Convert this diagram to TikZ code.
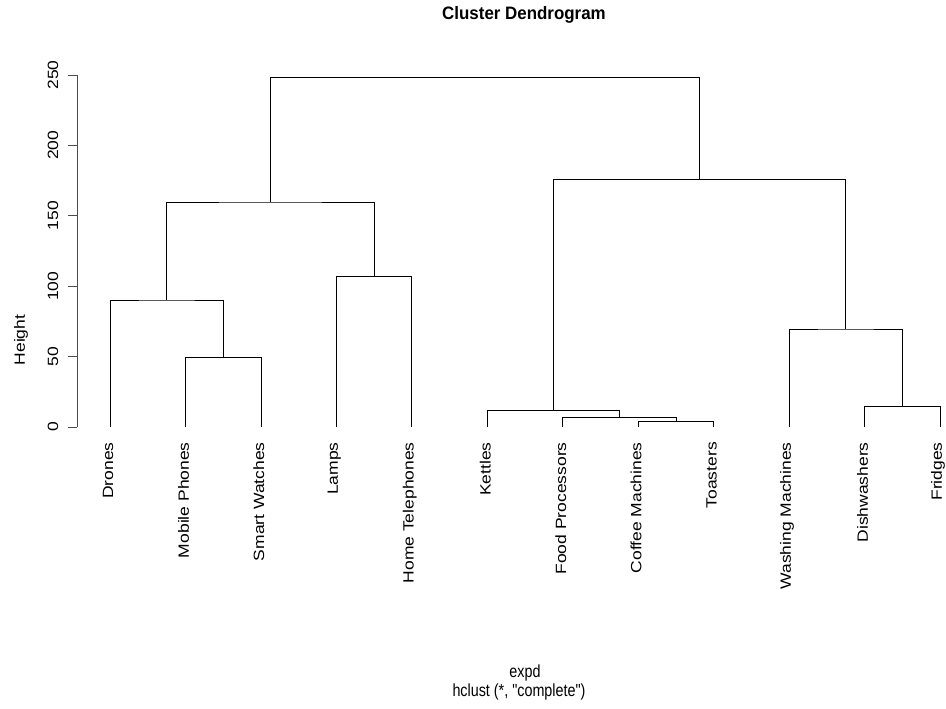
\documentclass[tikz,border=0pt]{standalone}
\usepackage{fontspec}
\setmainfont{Liberation Sans}
\newcommand{\narrowtext}[1]{\scalebox{1}[0.85]{#1}}
\begin{document}
\begin{tikzpicture}[x=1pt,y=1pt,
  link/.style={draw=black,line width=0.8pt},
  axisline/.style={draw=black!70,line width=0.8pt},
  leaflabel/.style={rotate=90,anchor=east,inner sep=0pt,font=\fontsize{17.5}{20}\selectfont},
  ticklabel/.style={rotate=90,inner sep=0pt,font=\fontsize{17.5}{20}\selectfont},
  plaintext/.style={inner sep=0pt,font=\fontsize{17.5}{20}\selectfont,xscale=0.82}]
\useasboundingbox (0,0) rectangle (946,709);
\fill[white] (0,0) rectangle (946,709);

% titles
\node[inner sep=0pt,font=\bfseries\fontsize{18}{21}\selectfont,xscale=0.94] (title) at (524,694) {Cluster Dendrogram};
\node[plaintext] (xlab) at (525,36) {expd};
\node[plaintext] (sub) at (519,17) {hclust (*, \textquotedbl complete\textquotedbl)};
\node[ticklabel] (ylab) at (21,369) {\narrowtext{Height}};

% data area: x in pt, y in height units
\begin{scope}[shift={(0,282)},y=1.408pt]
  % axis
  \coordinate (ax0) at (77,0);
  \coordinate (ax1) at (77,250);
  \draw[axisline] (ax0) -- (ax1);
  \foreach \v in {0,50,...,250} {
    \coordinate (t\v) at (77,\v);
    \draw[axisline] (t\v) -- ++(-9,0);
    \node[ticklabel] (tl\v) at (53,\v) {\narrowtext{\v}};
  }

  % leaves
  \foreach \i/\name/\txt in {0/dr/Drones,1/mp/Mobile Phones,2/sw/Smart Watches,3/la/Lamps,4/ht/Home Telephones,5/ke/Kettles,6/fp/Food Processors,7/cm/Coffee Machines,8/to/Toasters,9/wm/Washing Machines,10/dw/Dishwashers,11/fr/Fridges} {
    \coordinate (\name) at ({110+75.45*\i},0);
    \node[leaflabel] (\name-label) at ({108+75.45*\i},-10.7) {\narrowtext{\txt}};
  }

  % merge points
  \coordinate (mpsw) at ({(185.5+261)/2},49.7);
  \coordinate (drg) at ({(110+223.2)/2},90.2);
  \coordinate (laht) at ({(336.4+411.8)/2},107.2);
  \coordinate (left) at ({(166.6+374.1)/2},159.8);
  \coordinate (cmto) at ({(638.2+713.6)/2},3.8);
  \coordinate (fpg) at ({(562.7+675.9)/2},6.6);
  \coordinate (keg) at ({(487.3+619.3)/2},12.1);
  \coordinate (dwfr) at ({(864.5+940)/2},14.4);
  \coordinate (wmg) at ({(789+902.2)/2},69.6);
  \coordinate (right) at ({(553.3+845.6)/2},176);
  \coordinate (top) at ({(270.4+699.5)/2},248.6);

  % links
  \draw[link] (mp) |- (mpsw) -| (sw);
  \draw[link] (dr) |- (drg) -| (mpsw);
  \draw[link] (la) |- (laht) -| (ht);
  \draw[link] (drg) |- (left) -| (laht);
  \draw[link] (cm) |- (cmto) -| (to);
  \draw[link] (fp) |- (fpg) -| (cmto);
  \draw[link] (ke) |- (keg) -| (fpg);
  \draw[link] (dw) |- (dwfr) -| (fr);
  \draw[link] (wm) |- (wmg) -| (dwfr);
  \draw[link] (keg) |- (right) -| (wmg);
  \draw[link] (left) |- (top) -| (right);
\end{scope}
\end{tikzpicture}
\end{document}
